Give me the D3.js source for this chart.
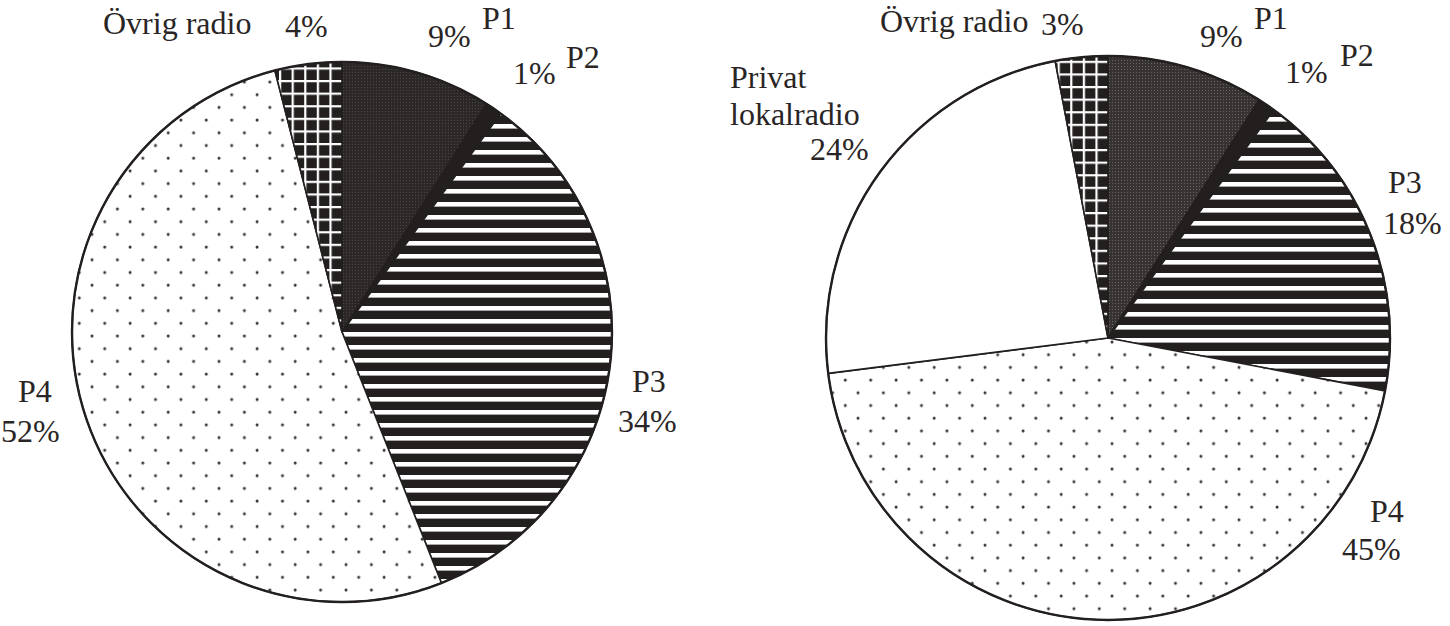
<!DOCTYPE html>
<html>
<head>
<meta charset="utf-8">
<script src="https://cdn.jsdelivr.net/npm/d3@7"></script>
<style>
  html, body { margin: 0; padding: 0; background: #fff; }
  svg { display: block; }
</style>
</head>
<body>
<svg id="chart" width="1450" height="626"></svg>
<script>
// ---- data ----
const categoriesLeft = ["P1", "P2", "P3", "P4", "Övrig radio"];
const valuesLeft = [9, 1, 34, 52, 4];

const categoriesRight = ["P1", "P2", "P3", "P4", "Privat lokalradio", "Övrig radio"];
const valuesRight = [9, 1, 18, 45, 24, 3];

// ---- layout (not data) ----
const pies = [
  {
    cats: categoriesLeft, vals: valuesLeft, cx: 342, cy: 332, r: 270, p1: "url(#pat-P1a)",
    labels: [
      { text: "Övrig radio", x: 103, y: 34 },
      { text: "4%", x: 285, y: 37 },
      { text: "9%", x: 428, y: 47 },
      { text: "P1", x: 482, y: 29 },
      { text: "1%", x: 513, y: 84 },
      { text: "P2", x: 566, y: 68 },
      { text: "P3", x: 632, y: 392 },
      { text: "34%", x: 618, y: 432 },
      { text: "P4", x: 18, y: 402 },
      { text: "52%", x: 1, y: 442 }
    ]
  },
  {
    cats: categoriesRight, vals: valuesRight, cx: 1108, cy: 338, r: 282, p1: "url(#pat-P1b)",
    labels: [
      { text: "Övrig radio", x: 880, y: 32 },
      { text: "3%", x: 1041, y: 35 },
      { text: "9%", x: 1200, y: 47 },
      { text: "P1", x: 1254, y: 29 },
      { text: "1%", x: 1285, y: 83 },
      { text: "P2", x: 1340, y: 66 },
      { text: "Privat", x: 730, y: 88 },
      { text: "lokalradio", x: 730, y: 125 },
      { text: "24%", x: 810, y: 160 },
      { text: "P3", x: 1388, y: 193 },
      { text: "18%", x: 1383, y: 234 },
      { text: "P4", x: 1370, y: 522 },
      { text: "45%", x: 1342, y: 560 }
    ]
  }
];

const svg = d3.select("#chart");
const defs = svg.append("defs");
const INK = "#231f1f";

// P1: dark fine stipple (left scan darker than right)
function stipple(id, base, dot) {
  const p = defs.append("pattern").attr("id", id)
    .attr("patternUnits", "userSpaceOnUse").attr("width", 3).attr("height", 3);
  p.append("rect").attr("width", 3).attr("height", 3).attr("fill", base);
  p.append("rect").attr("x", 1).attr("y", 1).attr("width", 1).attr("height", 1).attr("fill", dot);
}
stipple("pat-P1a", "#2c2828", "#4a4545");
stipple("pat-P1b", "#383333", "#6a6464");

// P3: horizontal stripes
const pP3 = defs.append("pattern").attr("id", "pat-P3")
  .attr("patternUnits", "userSpaceOnUse").attr("width", 13).attr("height", 13);
pP3.append("rect").attr("width", 13).attr("height", 13).attr("fill", INK);
pP3.append("rect").attr("y", 0).attr("width", 13).attr("height", 4.6).attr("fill", "#fff");

// P4: sparse staggered dots
const pP4 = defs.append("pattern").attr("id", "pat-P4")
  .attr("patternUnits", "userSpaceOnUse").attr("width", 25.4).attr("height", 25.4);
pP4.append("rect").attr("width", 25.4).attr("height", 25.4).attr("fill", "#fff");
pP4.append("circle").attr("cx", 4).attr("cy", 4).attr("r", 1.5).attr("fill", "#3a3535");
pP4.append("circle").attr("cx", 16.7).attr("cy", 16.7).attr("r", 1.5).attr("fill", "#3a3535");

// Övrig radio: black with white grid
const pOv = defs.append("pattern").attr("id", "pat-OV")
  .attr("patternUnits", "userSpaceOnUse").attr("width", 12.6).attr("height", 12.6);
pOv.append("rect").attr("width", 12.6).attr("height", 12.6).attr("fill", INK);
pOv.append("rect").attr("x", 0).attr("width", 2.2).attr("height", 12.6).attr("fill", "#fff");
pOv.append("rect").attr("y", 0).attr("width", 12.6).attr("height", 2.2).attr("fill", "#fff");

const fillFor = {
  "P2": INK,
  "P3": "url(#pat-P3)",
  "P4": "url(#pat-P4)",
  "Privat lokalradio": "#ffffff",
  "Övrig radio": "url(#pat-OV)"
};

const pie = d3.pie().sort(null).value(d => d.v);

pies.forEach(p => {
  const data = p.cats.map((c, i) => ({ c, v: p.vals[i] }));
  const arcs = pie(data);
  const arc = d3.arc().innerRadius(0).outerRadius(p.r);
  const g = svg.append("g").attr("transform", `translate(${p.cx},${p.cy})`);

  g.selectAll("path.slice").data(arcs).join("path")
    .attr("class", "slice")
    .attr("d", arc)
    .attr("fill", d => d.data.c === "P1" ? p.p1 : fillFor[d.data.c])
    .attr("stroke", INK)
    .attr("stroke-width", 1.6)
    .attr("stroke-linejoin", "round");

  g.append("circle").attr("r", p.r)
    .attr("fill", "none").attr("stroke", INK).attr("stroke-width", 2.4);

  svg.append("g").selectAll("text").data(p.labels).join("text")
    .attr("x", d => d.x).attr("y", d => d.y)
    .attr("font-family", "'Liberation Serif', 'Times New Roman', serif")
    .attr("font-size", 32)
    .attr("fill", "#2a2525")
    .text(d => d.text);
});
</script>
</body>
</html>
